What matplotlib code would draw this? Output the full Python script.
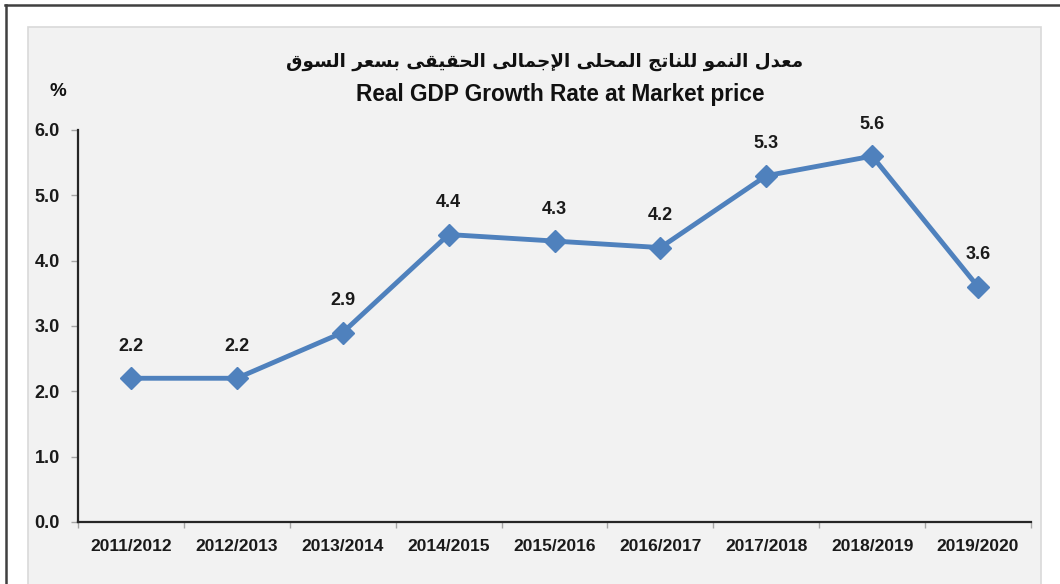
import matplotlib
matplotlib.use("Agg")
import matplotlib.pyplot as plt
from matplotlib.patches import Rectangle
from matplotlib.lines import Line2D

# ---------------- data ----------------
categories = ["2011/2012", "2012/2013", "2013/2014", "2014/2015", "2015/2016",
              "2016/2017", "2017/2018", "2018/2019", "2019/2020"]
growth = [2.2, 2.2, 2.9, 4.4, 4.3, 4.2, 5.3, 5.6, 3.6]
yticks = [0.0, 1.0, 2.0, 3.0, 4.0, 5.0, 6.0]
title_ar = "معدل النمو للناتج المحلى الإجمالى الحقيقى بسعر السوق"
title_en = "Real GDP Growth Rate at Market price"
unit_label = "%"

# ---------------- simple Arabic shaping ----------------
FORMS = {  # iso, fin, ini, med
    'ا': ('\uFE8D', '\uFE8E', None, None),
    'إ': ('\uFE87', '\uFE88', None, None),
    'أ': ('\uFE83', '\uFE84', None, None),
    'ب': ('\uFE8F', '\uFE90', '\uFE91', '\uFE92'),
    'ت': ('\uFE95', '\uFE96', '\uFE97', '\uFE98'),
    'ج': ('\uFE9D', '\uFE9E', '\uFE9F', '\uFEA0'),
    'ح': ('\uFEA1', '\uFEA2', '\uFEA3', '\uFEA4'),
    'د': ('\uFEA9', '\uFEAA', None, None),
    'ر': ('\uFEAD', '\uFEAE', None, None),
    'س': ('\uFEB1', '\uFEB2', '\uFEB3', '\uFEB4'),
    'ع': ('\uFEC9', '\uFECA', '\uFECB', '\uFECC'),
    'ق': ('\uFED5', '\uFED6', '\uFED7', '\uFED8'),
    'ل': ('\uFEDD', '\uFEDE', '\uFEDF', '\uFEE0'),
    'م': ('\uFEE1', '\uFEE2', '\uFEE3', '\uFEE4'),
    'ن': ('\uFEE5', '\uFEE6', '\uFEE7', '\uFEE8'),
    'و': ('\uFEED', '\uFEEE', None, None),
    'ى': ('\uFEEF', '\uFEF0', '\uFBE8', '\uFBE9'),
    'ي': ('\uFEF1', '\uFEF2', '\uFEF3', '\uFEF4'),
    'LA': ('\uFEFB', '\uFEFC', None, None),
    'LAH': ('\uFEF9', '\uFEFA', None, None),
}


def shape_arabic(text):
    units = []
    i = 0
    while i < len(text):
        c = text[i]
        if c == 'ل' and i + 1 < len(text) and text[i + 1] in 'اإ':
            units.append('LA' if text[i + 1] == 'ا' else 'LAH')
            i += 2
        else:
            units.append(c)
            i += 1
    out = []
    for k, u in enumerate(units):
        if u not in FORMS:
            out.append(u)
            continue
        iso, fin, ini, med = FORMS[u]
        prev = units[k - 1] if k > 0 else None
        nxt = units[k + 1] if k + 1 < len(units) else None
        join_prev = prev in FORMS and FORMS[prev][2] is not None
        join_next = ini is not None and nxt in FORMS
        if join_prev and join_next:
            out.append(med)
        elif join_prev:
            out.append(fin)
        elif join_next:
            out.append(ini)
        else:
            out.append(iso)
    return ''.join(out)[::-1]


# ---------------- figure ----------------
W, H = 1060, 584
fig = plt.figure(figsize=(W / 100, H / 100), dpi=100)
fig.patch.set_facecolor("white")

# gray panel
fig.patches.append(Rectangle((28 / W, -0.05), (1041 - 28) / W, (H - 27) / H + 0.05,
                             transform=fig.transFigure, facecolor="#f2f2f2",
                             edgecolor="#d9d9d9", linewidth=1.2, zorder=-5))
# outer frame lines
fig.lines.append(Line2D([5 / W, 1.0], [1 - 5 / H, 1 - 5 / H], transform=fig.transFigure,
                        color="#404040", linewidth=1.8, zorder=-4))
fig.lines.append(Line2D([6 / W, 6 / W], [0, 1 - 5 / H], transform=fig.transFigure,
                        color="#404040", linewidth=1.8, zorder=-4))

ax = fig.add_axes([78 / W, (H - 522) / H, (1031 - 78) / W, (522 - 130) / H])
ax.set_facecolor("none")
ax.set_zorder(2)

x = list(range(len(categories)))
color = "#4f81bd"
ax.plot(x, growth, color=color, linewidth=3.5, marker="D", markersize=11,
        markerfacecolor=color, markeredgecolor=color, zorder=3, clip_on=False)

for xi, v in zip(x, growth):
    ax.annotate(f"{v:.1f}", (xi, v), xytext=(0, 23), textcoords="offset points",
                ha="center", va="center", fontsize=13, fontweight="bold",
                family="Liberation Sans", color="#1a1a1a")

ax.set_xlim(-0.5, len(categories) - 0.5)
ax.set_ylim(0, 6)
ax.set_yticks(yticks)
ax.set_yticklabels([f"{t:.1f}" for t in yticks], fontsize=13, fontweight="bold",
                   family="Liberation Sans", color="#1a1a1a")
ax.set_xticks(x)
ax.set_xticklabels(categories, fontsize=12.5, fontweight="bold",
                   family="Liberation Sans", color="#1a1a1a")
ax.set_xticks([i - 0.5 for i in range(len(categories) + 1)], minor=True)
ax.tick_params(axis="x", which="major", length=0, pad=12)
ax.tick_params(axis="x", which="minor", length=4, color="#a6a6a6", width=1)
ax.tick_params(axis="y", length=5, color="#a6a6a6", width=1, pad=8)

for s in ["top", "right"]:
    ax.spines[s].set_visible(False)
for s in ["left", "bottom"]:
    ax.spines[s].set_color("#262626")
    ax.spines[s].set_linewidth(1.6)

# titles
fig.text(545 / W, 1 - 62 / H, shape_arabic(title_ar), ha="center", va="center",
         fontsize=13.2, fontweight="bold", family=["DejaVu Sans"], color="#111111")
fig.text(560 / W, 1 - 94 / H, title_en, ha="center", va="center",
         fontsize=16.3, fontweight="bold", family="Liberation Sans", color="#111111")
fig.text(58 / W, 1 - 91 / H, unit_label, ha="center", va="center",
         fontsize=13.5, fontweight="bold", family="Liberation Sans", color="#111111")

fig.savefig("out.png", dpi=100, facecolor=fig.get_facecolor())
